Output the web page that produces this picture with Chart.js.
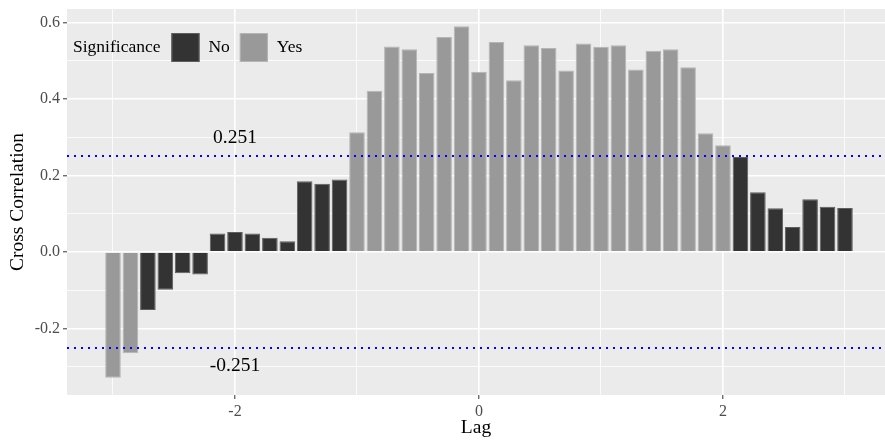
<!DOCTYPE html>
<html>
<head>
<meta charset="utf-8">
<title>Cross Correlation</title>
<script src="https://cdn.jsdelivr.net/npm/chart.js@4.4.1/dist/chart.umd.min.js"></script>
<style>
  html, body { margin: 0; padding: 0; background: #ffffff; overflow: hidden; }
  canvas { display: block; }
</style>
</head>
<body>
<canvas id="ccfChart" width="885" height="440"></canvas>
<script>
// Lags (x) and cross correlation values
const lags = [
  -3.000, -2.857, -2.714, -2.571, -2.429, -2.286, -2.143,
  -2.000, -1.857, -1.714, -1.571, -1.429, -1.286, -1.143,
  -1.000, -0.857, -0.714, -0.571, -0.429, -0.286, -0.143,
   0.000,
   0.143,  0.286,  0.429,  0.571,  0.714,  0.857,  1.000,
   1.143,  1.286,  1.429,  1.571,  1.714,  1.857,  2.000,
   2.143,  2.286,  2.429,  2.571,  2.714,  2.857,  3.000
];
const ccf = [
  -0.329, -0.265, -0.152, -0.099, -0.056, -0.059, 0.048,
   0.052,  0.048,  0.037,  0.028,  0.185,  0.178, 0.189,
   0.313,  0.421,  0.537,  0.530,  0.468,  0.562, 0.590,
   0.471,
   0.549,  0.449,  0.540,  0.533,  0.474,  0.545, 0.536,
   0.540,  0.477,  0.526,  0.530,  0.483,  0.310, 0.279,
   0.248,  0.156,  0.114,  0.065,  0.138,  0.118, 0.115
];
const significance = [
  "Yes", "Yes", "No", "No", "No", "No", "No",
  "No", "No", "No", "No", "No", "No", "No",
  "Yes", "Yes", "Yes", "Yes", "Yes", "Yes", "Yes",
  "Yes",
  "Yes", "Yes", "Yes", "Yes", "Yes", "Yes", "Yes",
  "Yes", "Yes", "Yes", "Yes", "Yes", "Yes", "Yes",
  "No", "No", "No", "No", "No", "No", "No"
];
const levels = ["No", "Yes"];
const threshold = 0.251;
const thresholdLabelX = -2;
const thresholdLabelGap = 0.048;

// axis ticks (major get labels, minor only grid lines)
const xMajorTicks = [-2, 0, 2];
const xMinorTicks = [-3, -1, 1, 3];
const yMajorTicks = [-0.2, 0, 0.2, 0.4, 0.6];
const yMinorTicks = [-0.3, -0.1, 0.1, 0.3, 0.5];

const X_MIN = -3.377, X_MAX = 3.328;
const Y_MIN = -0.374, Y_MAX = 0.635;

const fillColors = { No: "#333333", Yes: "#999999" };
const edgeColors = { No: "#5e5e5e", Yes: "#b5b5b5" };
const serif = "'Liberation Serif', 'Times New Roman', serif";

function pointsFor(level) {
  const pts = [];
  for (let i = 0; i < lags.length; i++) {
    if (significance[i] === level) pts.push({ x: lags[i], y: ccf[i] });
  }
  return pts;
}

function allTicks(major, minor) {
  return major.concat(minor).sort((a, b) => a - b).map(v => ({ value: v }));
}

// grey panel, threshold labels and the inside legend
const panelPlugin = {
  id: "panel",
  beforeDraw(chart) {
    const { ctx, chartArea: a } = chart;
    ctx.save();
    ctx.fillStyle = "#ebebeb";
    ctx.fillRect(a.left, a.top, a.right - a.left, a.bottom - a.top);
    ctx.restore();
  },
  afterDatasetsDraw(chart) {
    const { ctx, chartArea: a, scales } = chart;
    ctx.save();
    ctx.fillStyle = "#000000";
    ctx.font = "19.5px " + serif;
    ctx.textAlign = "center";
    ctx.textBaseline = "middle";
    const lx = scales.x.getPixelForValue(thresholdLabelX);
    ctx.fillText(threshold.toFixed(3), lx, scales.y.getPixelForValue(threshold + thresholdLabelGap));
    ctx.fillText((-threshold).toFixed(3), lx, scales.y.getPixelForValue(-threshold - thresholdLabelGap));

    // legend: title then key + label for each level
    const keySize = 29;
    const keyTop = a.top + 24;
    const midY = keyTop + keySize / 2;
    ctx.font = "17.5px " + serif;
    ctx.textAlign = "left";
    let x = a.left + 6;
    ctx.fillText("Significance", x, midY);
    x += ctx.measureText("Significance").width + 11;
    levels.forEach(level => {
      ctx.fillStyle = fillColors[level];
      ctx.fillRect(x, keyTop, keySize - 1, keySize);
      ctx.strokeStyle = edgeColors[level];
      ctx.lineWidth = 1;
      ctx.strokeRect(x + 0.5, keyTop + 0.5, keySize - 2, keySize - 1);
      x += keySize - 1 + 9;
      ctx.fillStyle = "#000000";
      ctx.fillText(level, x, midY);
      x += ctx.measureText(level).width + 10;
    });
    ctx.restore();
  }
};

const barSets = levels.map(level => ({
  type: "bar",
  label: level,
  data: pointsFor(level),
  backgroundColor: fillColors[level],
  borderColor: edgeColors[level],
  borderWidth: 1,
  grouped: false,
  categoryPercentage: 1.0,
  barPercentage: 0.9,
  order: 2
}));

const limitSets = [threshold, -threshold].map(t => ({
  type: "line",
  label: "limit " + t,
  data: [{ x: X_MIN, y: t }, { x: X_MAX, y: t }],
  borderColor: "#0000ff",
  borderWidth: 2,
  borderDash: [2, 5],
  borderCapStyle: "butt",
  pointRadius: 0,
  fill: false,
  order: 1
}));

new Chart(document.getElementById("ccfChart"), {
  data: { datasets: barSets.concat(limitSets) },
  options: {
    responsive: false,
    animation: false,
    devicePixelRatio: 1,
    events: [],
    layout: { padding: { top: 9, left: 0, right: 0, bottom: 0 } },
    plugins: {
      legend: { display: false },
      tooltip: { enabled: false }
    },
    scales: {
      x: {
        type: "linear",
        min: X_MIN,
        max: X_MAX,
        offset: false,
        bounds: "data",
        afterBuildTicks: s => { s.ticks = allTicks(xMajorTicks, xMinorTicks); },
        afterFit: s => { s.height = 45; s.paddingLeft = 0; s.paddingRight = 0; },
        ticks: {
          autoSkip: false,
          maxRotation: 0,
          minRotation: 0,
          padding: 3,
          color: "#4d4d4d",
          font: { family: serif, size: 16 },
          callback: v => xMajorTicks.includes(v) ? String(v) : ""
        },
        grid: {
          offset: false,
          color: "#ffffff",
          lineWidth: c => xMajorTicks.includes(c.tick && c.tick.value) ? 1.6 : 0.8,
          tickLength: 4,
          tickWidth: 1,
          tickColor: c => xMajorTicks.includes(c.tick && c.tick.value) ? "#333333" : "rgba(0,0,0,0)"
        },
        border: { display: false },
        title: {
          display: true,
          text: "Lag",
          color: "#000000",
          font: { family: serif, size: 19.5 },
          padding: { top: 0, bottom: 0 }
        }
      },
      y: {
        type: "linear",
        min: Y_MIN,
        max: Y_MAX,
        bounds: "data",
        afterBuildTicks: s => { s.ticks = allTicks(yMajorTicks, yMinorTicks); },
        afterFit: s => { s.width = 67; s.paddingTop = 0; s.paddingBottom = 0; },
        ticks: {
          autoSkip: false,
          padding: 3,
          color: "#4d4d4d",
          font: { family: serif, size: 16 },
          callback: v => yMajorTicks.includes(v) ? v.toFixed(1) : ""
        },
        grid: {
          color: "#ffffff",
          lineWidth: c => yMajorTicks.includes(c.tick && c.tick.value) ? 1.6 : 0.8,
          tickLength: 4,
          tickWidth: 1,
          tickColor: c => yMajorTicks.includes(c.tick && c.tick.value) ? "#333333" : "rgba(0,0,0,0)"
        },
        border: { display: false },
        title: {
          display: true,
          text: "Cross Correlation",
          color: "#000000",
          font: { family: serif, size: 19.5 },
          padding: { top: 6, bottom: 0 }
        }
      }
    }
  },
  plugins: [panelPlugin]
});
</script>
</body>
</html>
